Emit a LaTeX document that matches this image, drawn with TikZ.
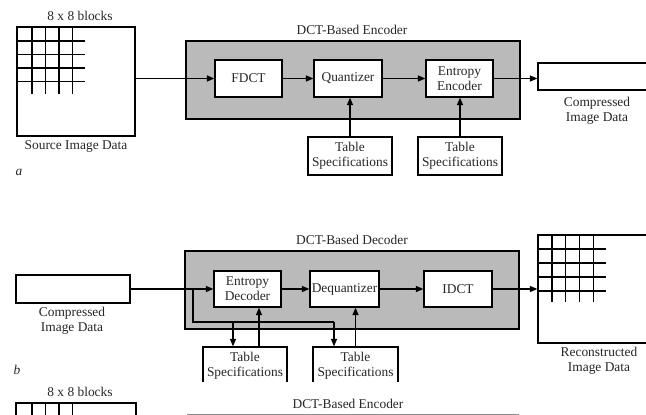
\documentclass[tikz,border=0pt]{standalone}
\usepackage{fontspec}
\setmainfont{Liberation Serif}
\usetikzlibrary{arrows.meta,calc}
\newcommand\myfs{\fontsize{13.4}{15}\selectfont}
\begin{document}
\begin{tikzpicture}[x=1pt,y=-1pt,
  box/.style={draw, line width=1.3pt, fill=white, inner sep=0pt, align=center, font=\myfs, text=black!85},
  pan/.style={draw, line width=1.3pt, fill=black!27, inner sep=0pt},
  lbl/.style={inner sep=0pt, align=center, font=\myfs, text=black!85},
  arr/.style={line width=1.2pt, -{Triangle[length=7.5pt,width=6pt]}},
  ln/.style={line width=1.2pt}]
\fill[white] (0,0) rectangle (646,415);
\useasboundingbox (0,0) rectangle (646,415);
\clip (0,0) rectangle (646,415);

% ---------- part a ----------
\node[lbl] (blk1) at (80,16) {8 x 8 blocks};
\node[box, minimum width=118, minimum height=109] (src) at (76,81.5) {};
\foreach \i in {0,1,2,3} {
  \draw[ln] (32+13.5*\i,27) -- (32+13.5*\i,94);
  \draw[ln] (17,41+13.5*\i) -- (85,41+13.5*\i);
}
\node[lbl] (srcl) at (76,147) {Source Image Data};
\node[lbl] (a) at (19,172) {\itshape a};

\node[lbl] (enct) at (352,30) {DCT-Based Encoder};
\node[pan, minimum width=334, minimum height=78] (enc) at (353,80) {};
\node[box, minimum width=67, minimum height=37] (fdct) at (248.5,78.5) {FDCT};
\node[box, minimum width=68, minimum height=37] (quant) at (348,78.5) {Quantizer};
\node[box, minimum width=67, minimum height=37] (ee) at (459.5,78.5) {Entropy\\Encoder};
\node[box, minimum width=120, minimum height=27] (cout) at (598,76.5) {};
\node[lbl] (coutl) at (597,110.5) {Compressed\\Image Data};
\node[box, minimum width=84, minimum height=38] (ts1) at (350,156) {Table\\Specifications};
\node[box, minimum width=84, minimum height=38] (ts2) at (460,156) {Table\\Specifications};

\draw[arr] (src.east |- fdct.west) -- (fdct.west);
\draw[arr] (fdct.east) -- (quant.west);
\draw[arr] (quant.east) -- (ee.west);
\draw[arr] (ee.east) -- (ee.east -| cout.west);
\draw[arr] (ts1.north) -- (ts1.north |- quant.south);
\draw[arr] (ts2.north) -- (ts2.north |- ee.south);

% ---------- part b ----------
\node[lbl] (dect) at (352,240) {DCT-Based Decoder};
\node[pan, minimum width=334, minimum height=78] (dec) at (352,290) {};
\node[box, minimum width=114, minimum height=28] (cin) at (73,289) {};
\node[lbl] (cinl) at (72,320.5) {Compressed\\Image Data};
\node[box, minimum width=67, minimum height=36] (ed) at (247.5,289) {Entropy\\Decoder};
\node[box, minimum width=69, minimum height=36] (deq) at (344.5,289) {Dequantizer};
\node[box, minimum width=68, minimum height=36] (idct) at (458,289) {IDCT};
\node[box, minimum width=122, minimum height=108] (rec) at (599,289) {};
\foreach \i in {0,1,2,3} {
  \draw[ln] (552+13.7*\i,235) -- (552+13.7*\i,302);
  \draw[ln] (538,249+14*\i) -- (606,249+14*\i);
}
\node[lbl] (recl) at (599,361) {Reconstructed\\Image Data};
\node[lbl] (b) at (17,370) {\itshape b};

\begin{scope}
\clip (0,0) rectangle (646,381);
\node[box, minimum width=84, minimum height=38] (ts3) at (245,366) {Table\\Specifications};
\node[box, minimum width=85, minimum height=38] (ts4) at (355.5,366) {Table\\Specifications};
\end{scope}

\coordinate (br) at (193,289);
\coordinate (c1) at (233,322);
\coordinate (c2) at (334,322);
\draw[arr] (cin.east) -- (ed.west);
\draw[arr] (ed.east) -- (deq.west);
\draw[arr] (deq.east) -- (idct.west);
\draw[arr] (idct.east) -- (rec.west);
\draw[ln] (br) |- (c2);
\draw[arr] (c2) -- (c2 |- ts4.north);
\draw[arr] (c1) -- (c1 |- ts3.north);
\draw[arr] ([xshift=14pt]ts3.north) -- ([xshift=11.5pt]ed.south);
\draw[arr] (ts4.north) -- (ts4.north |- deq.south);

% ---------- part c (cut off) ----------
\node[lbl] (blk2) at (80,392) {8 x 8 blocks};
\node[box, minimum width=120, minimum height=60] (src2) at (76,433) {};
\foreach \i in {0,1,2,3} {
  \draw[ln] (32+13.5*\i,403) -- (32+13.5*\i,420);
}
\node[lbl] (enct2) at (348,404) {DCT-Based Encoder};
\draw[line width=1pt, black!45] (187,414.5) -- (519,414.5);
\end{tikzpicture}
\end{document}
